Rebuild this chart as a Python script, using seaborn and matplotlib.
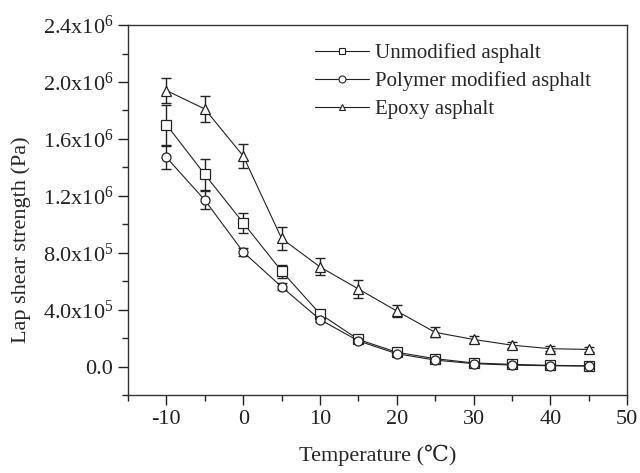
import matplotlib
matplotlib.use("Agg")
import matplotlib.pyplot as plt
import seaborn as sns
import pandas as pd
import numpy as np
from matplotlib.ticker import MultipleLocator, FixedLocator, FixedFormatter
from matplotlib.lines import Line2D

temperature = [-10, -5, 0, 5, 10, 15, 20, 25, 30, 35, 40, 45]
unmodified = [1.70e6, 1.35e6, 1.01e6, 0.67e6, 0.37e6, 0.19e6, 0.10e6, 0.055e6, 0.025e6, 0.015e6, 0.008e6, 0.005e6]
unmodified_err = [0.14e6, 0.11e6, 0.07e6, 0.045e6, 0.03e6, 0.015e6, 0.012e6, 0.01e6, 0.01e6, 0.008e6, 0.008e6, 0.006e6]
polymer = [1.47e6, 1.17e6, 0.805e6, 0.56e6, 0.33e6, 0.18e6, 0.09e6, 0.045e6, 0.02e6, 0.01e6, 0.005e6, 0.003e6]
polymer_err = [0.08e6, 0.065e6, 0.03e6, 0.025e6, 0.02e6, 0.012e6, 0.01e6, 0.01e6, 0.008e6, 0.006e6, 0.006e6, 0.005e6]
epoxy = [1.94e6, 1.81e6, 1.48e6, 0.90e6, 0.70e6, 0.545e6, 0.39e6, 0.24e6, 0.19e6, 0.15e6, 0.125e6, 0.12e6]
epoxy_err = [0.09e6, 0.09e6, 0.085e6, 0.08e6, 0.06e6, 0.06e6, 0.04e6, 0.035e6, 0.025e6, 0.02e6, 0.018e6, 0.018e6]

series_names = ["Unmodified asphalt", "Polymer modified asphalt", "Epoxy asphalt"]
series_vals = [unmodified, polymer, epoxy]
series_errs = [unmodified_err, polymer_err, epoxy_err]
series_markers = ["s", "o", "^"]

ytick_vals = [0.0, 0.4e6, 0.8e6, 1.2e6, 1.6e6, 2.0e6, 2.4e6]
ytick_labels = ["0.0", r"4.0x10$^5$", r"8.0x10$^5$", r"1.2x10$^6$", r"1.6x10$^6$", r"2.0x10$^6$", r"2.4x10$^6$"]

sns.set_theme(style="ticks")
plt.rcParams['font.family'] = ['Liberation Serif', 'DejaVu Serif', 'DejaVu Sans']
plt.rcParams['mathtext.fontset'] = 'custom'
plt.rcParams['mathtext.rm'] = 'Liberation Serif'
plt.rcParams['mathtext.it'] = 'Liberation Serif'
plt.rcParams['axes.unicode_minus'] = False

rows = []
for name, vals, errs in zip(series_names, series_vals, series_errs):
    for t, v, e in zip(temperature, vals, errs):
        rows.append({"T": t, "S": v, "E": e, "series": name})
df = pd.DataFrame(rows)

fig = plt.figure(figsize=(6.4, 4.73), dpi=100)
ax = fig.add_axes([0.2, 0.165, 0.78, 0.782])

col = "#222222"
for name, m in zip(series_names, series_markers):
    sub = df[df.series == name]
    ax.errorbar(sub["T"], sub["S"], yerr=sub["E"], fmt="none", ecolor=col,
                elinewidth=1.0, capsize=3.5, capthick=1.0, zorder=2)
sns.lineplot(data=df, x="T", y="S", hue="series", style="series",
             markers=dict(zip(series_names, series_markers)), dashes=False,
             palette=[col]*3, markersize=6.5, markerfacecolor="white",
             markeredgecolor=col, markeredgewidth=0.9, linewidth=0.8,
             legend=False, ax=ax, zorder=3)

ax.set_xlim(-15, 50)
ax.set_ylim(-0.2e6, 2.4e6)
ax.xaxis.set_major_locator(MultipleLocator(10))
ax.xaxis.set_minor_locator(MultipleLocator(5))
ax.yaxis.set_major_locator(FixedLocator(ytick_vals))
ax.yaxis.set_major_formatter(FixedFormatter(ytick_labels))
ax.yaxis.set_minor_locator(MultipleLocator(0.2e6))
ax.tick_params(which="major", direction="out", length=7, width=1, labelsize=16, colors="#222222")
ax.tick_params(which="minor", direction="out", length=4, width=1)
for s in ax.spines.values():
    s.set_linewidth(1.0)
    s.set_color("#333333")

ax.set_xlabel("Temperature (\u2103)", fontsize=16)
ax.set_ylabel("Lap shear strength (Pa)", fontsize=16)
ax.yaxis.set_label_coords(-0.195, 0.42)
ax.xaxis.set_label_coords(0.5, -0.135)

handles = [Line2D([], [], color=col, lw=0.8, marker=m, markersize=5,
                  markerfacecolor="white", markeredgecolor=col, markeredgewidth=0.8)
           for m in series_markers]
ax.legend(handles, series_names, loc="upper left", bbox_to_anchor=(0.345, 0.99),
          frameon=False, fontsize=15, handlelength=2.6, handletextpad=0.3,
          labelspacing=0.4, borderaxespad=0.3)

fig.savefig("out.png", dpi=100)
